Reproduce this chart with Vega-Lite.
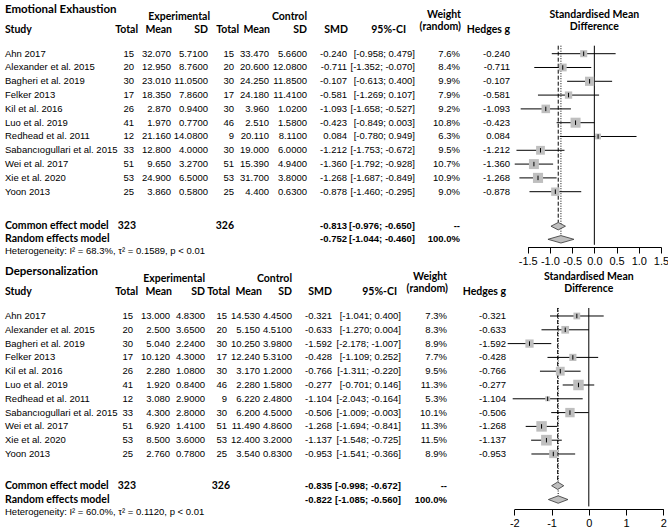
{
"$schema": "https://vega.github.io/schema/vega-lite/v6.json",
"padding": 0,
"spacing": 0,
"config": {
 "view": {"stroke": null},
 "text": {"font": "Liberation Sans", "fontSize": 9.5, "baseline": "middle", "color": "#000"},
 "axis": {"grid": false, "domainColor": "#000", "tickColor": "#000", "labelColor": "#000", "labelFont": "Liberation Sans", "labelFontSize": 11, "tickSize": 6, "labelPadding": 2, "labelFlush": false, "labelOverlap": false, "labelExpr": "replace(datum.label, '−', '-')"}
},
"datasets": {
 "one": [{}],
 "ee": [
  {"study":"Ahn 2017","ne":15,"me":32.07,"sde":5.71,"nc":15,"mc":33.47,"sdc":5.66,"smd":-0.240,"lo":-0.958,"hi":0.479,"w":7.6},
  {"study":"Alexander et al. 2015","ne":20,"me":12.95,"sde":8.76,"nc":20,"mc":20.6,"sdc":12.08,"smd":-0.711,"lo":-1.352,"hi":-0.070,"w":8.4},
  {"study":"Bagheri et al. 2019","ne":30,"me":23.01,"sde":11.05,"nc":30,"mc":24.25,"sdc":11.85,"smd":-0.107,"lo":-0.613,"hi":0.400,"w":9.9},
  {"study":"Felker 2013","ne":17,"me":18.35,"sde":7.86,"nc":17,"mc":24.18,"sdc":11.41,"smd":-0.581,"lo":-1.269,"hi":0.107,"w":7.9},
  {"study":"Kil et al. 2016","ne":26,"me":2.87,"sde":0.94,"nc":30,"mc":3.96,"sdc":1.02,"smd":-1.093,"lo":-1.658,"hi":-0.527,"w":9.2},
  {"study":"Luo et al. 2019","ne":41,"me":1.97,"sde":0.77,"nc":46,"mc":2.51,"sdc":1.58,"smd":-0.423,"lo":-0.849,"hi":0.003,"w":10.8},
  {"study":"Redhead et al. 2011","ne":12,"me":21.16,"sde":14.08,"nc":9,"mc":20.11,"sdc":8.11,"smd":0.084,"lo":-0.780,"hi":0.949,"w":6.3},
  {"study":"Sabancıogullari et al. 2015","ne":33,"me":12.8,"sde":4.0,"nc":30,"mc":19.0,"sdc":6.0,"smd":-1.212,"lo":-1.753,"hi":-0.672,"w":9.5},
  {"study":"Wei et al. 2017","ne":51,"me":9.65,"sde":3.27,"nc":51,"mc":15.39,"sdc":4.94,"smd":-1.360,"lo":-1.792,"hi":-0.928,"w":10.7},
  {"study":"Xie et al. 2020","ne":53,"me":24.9,"sde":6.5,"nc":53,"mc":31.7,"sdc":3.8,"smd":-1.268,"lo":-1.687,"hi":-0.849,"w":10.9},
  {"study":"Yoon 2013","ne":25,"me":3.86,"sde":0.58,"nc":25,"mc":4.4,"sdc":0.63,"smd":-0.878,"lo":-1.460,"hi":-0.295,"w":9.0}
 ],
 "ee_sum": [
  {"model":"Common effect model","ne":323,"nc":326,"smd":-0.813,"lo":-0.976,"hi":-0.650,"w":null},
  {"model":"Random effects model","ne":null,"nc":null,"smd":-0.752,"lo":-1.044,"hi":-0.460,"w":100.0}
 ],
 "dp": [
  {"study":"Ahn 2017","ne":15,"me":13.0,"sde":4.83,"nc":15,"mc":14.53,"sdc":4.45,"smd":-0.321,"lo":-1.041,"hi":0.400,"w":7.3},
  {"study":"Alexander et al. 2015","ne":20,"me":2.5,"sde":3.65,"nc":20,"mc":5.15,"sdc":4.51,"smd":-0.633,"lo":-1.270,"hi":0.004,"w":8.3},
  {"study":"Bagheri et al. 2019","ne":30,"me":5.04,"sde":2.24,"nc":30,"mc":10.25,"sdc":3.98,"smd":-1.592,"lo":-2.178,"hi":-1.007,"w":8.9},
  {"study":"Felker 2013","ne":17,"me":10.12,"sde":4.3,"nc":17,"mc":12.24,"sdc":5.31,"smd":-0.428,"lo":-1.109,"hi":0.252,"w":7.7},
  {"study":"Kil et al. 2016","ne":26,"me":2.28,"sde":1.08,"nc":30,"mc":3.17,"sdc":1.2,"smd":-0.766,"lo":-1.311,"hi":-0.220,"w":9.5},
  {"study":"Luo et al. 2019","ne":41,"me":1.92,"sde":0.84,"nc":46,"mc":2.28,"sdc":1.58,"smd":-0.277,"lo":-0.701,"hi":0.146,"w":11.3},
  {"study":"Redhead et al. 2011","ne":12,"me":3.08,"sde":2.9,"nc":9,"mc":6.22,"sdc":2.48,"smd":-1.104,"lo":-2.043,"hi":-0.164,"w":5.3},
  {"study":"Sabancıogullari et al. 2015","ne":33,"me":4.3,"sde":2.8,"nc":30,"mc":6.2,"sdc":4.5,"smd":-0.506,"lo":-1.009,"hi":-0.003,"w":10.1},
  {"study":"Wei et al. 2017","ne":51,"me":6.92,"sde":1.41,"nc":51,"mc":11.49,"sdc":4.86,"smd":-1.268,"lo":-1.694,"hi":-0.841,"w":11.3},
  {"study":"Xie et al. 2020","ne":53,"me":8.5,"sde":3.6,"nc":53,"mc":12.4,"sdc":3.2,"smd":-1.137,"lo":-1.548,"hi":-0.725,"w":11.5},
  {"study":"Yoon 2013","ne":25,"me":2.76,"sde":0.78,"nc":25,"mc":3.54,"sdc":0.83,"smd":-0.953,"lo":-1.541,"hi":-0.366,"w":8.9}
 ],
 "dp_sum": [
  {"model":"Common effect model","ne":323,"nc":326,"smd":-0.835,"lo":-0.998,"hi":-0.672,"w":null},
  {"model":"Random effects model","ne":null,"nc":null,"smd":-0.822,"lo":-1.085,"hi":-0.560,"w":100.0}
 ]
},
"vconcat": [
 {
  "spacing": 0,
  "bounds": "flush",
  "hconcat": [
   {
    "width": 510, "height": 247,
    "layer": [
     {
      "data": {"name": "ee"},
      "transform": [
       {"window": [{"op": "row_number", "as": "r"}]},
       {"calculate": "replace(format(datum.smd, '.3f'), '−', '-')", "as": "smdt"},
       {"calculate": "'[' + replace(format(datum.lo, '.3f'), '−', '-') + ';' + (datum.hi < 0 ? ' ' : '  ') + replace(format(datum.hi, '.3f'), '−', '-') + ']'", "as": "ci"},
       {"calculate": "format(datum.w, '.1f') + '%'", "as": "wt"}
      ],
      "encoding": {"y": {"field": "r", "type": "quantitative", "scale": {"domain": [-2.891, 15.008], "reverse": true, "nice": false, "zero": false}, "axis": null}},
      "layer": [
       {"mark": {"type": "text", "align": "left"}, "encoding": {"x": {"datum": 5, "type": "quantitative", "scale": {"domain": [0, 510], "nice": false, "zero": false}, "axis": null}, "text": {"field": "study"}}},
       {"mark": {"type": "text", "align": "right"}, "encoding": {"x": {"datum": 134, "type": "quantitative", "axis": null}, "text": {"field": "ne", "type": "quantitative", "format": "d"}}},
       {"mark": {"type": "text", "align": "right"}, "encoding": {"x": {"datum": 171, "type": "quantitative", "axis": null}, "text": {"field": "me", "type": "quantitative", "format": ".3f"}}},
       {"mark": {"type": "text", "align": "right"}, "encoding": {"x": {"datum": 208, "type": "quantitative", "axis": null}, "text": {"field": "sde", "type": "quantitative", "format": ".4f"}}},
       {"mark": {"type": "text", "align": "right"}, "encoding": {"x": {"datum": 234, "type": "quantitative", "axis": null}, "text": {"field": "nc", "type": "quantitative", "format": "d"}}},
       {"mark": {"type": "text", "align": "right"}, "encoding": {"x": {"datum": 269, "type": "quantitative", "axis": null}, "text": {"field": "mc", "type": "quantitative", "format": ".3f"}}},
       {"mark": {"type": "text", "align": "right"}, "encoding": {"x": {"datum": 307, "type": "quantitative", "axis": null}, "text": {"field": "sdc", "type": "quantitative", "format": ".4f"}}},
       {"mark": {"type": "text", "align": "right"}, "encoding": {"x": {"datum": 347, "type": "quantitative", "axis": null}, "text": {"field": "smdt"}}},
       {"mark": {"type": "text", "align": "right"}, "encoding": {"x": {"datum": 415, "type": "quantitative", "axis": null}, "text": {"field": "ci"}}},
       {"mark": {"type": "text", "align": "right"}, "encoding": {"x": {"datum": 460, "type": "quantitative", "axis": null}, "text": {"field": "wt"}}},
       {"mark": {"type": "text", "align": "right"}, "encoding": {"x": {"datum": 510, "type": "quantitative", "axis": null}, "text": {"field": "smdt"}}}
      ]
     },
     {
      "data": {"name": "ee_sum"},
      "transform": [
       {"calculate": "datum.model == 'Common effect model' ? 13.5 : 14.45", "as": "r"},
       {"calculate": "replace(format(datum.smd, '.3f'), '−', '-')", "as": "smdt"},
       {"calculate": "'[' + replace(format(datum.lo, '.3f'), '−', '-') + ';' + (datum.hi < 0 ? ' ' : '  ') + replace(format(datum.hi, '.3f'), '−', '-') + ']'", "as": "ci"},
       {"calculate": "isValid(datum.w) ? format(datum.w, '.1f') + '%' : '--'", "as": "wt"},
       {"calculate": "isValid(datum.ne) ? format(datum.ne, 'd') : ''", "as": "net"},
       {"calculate": "isValid(datum.nc) ? format(datum.nc, 'd') : ''", "as": "nct"}
      ],
      "encoding": {"y": {"field": "r", "type": "quantitative", "axis": null}},
      "layer": [
       {"mark": {"type": "text", "align": "left", "font": "Lato", "fontWeight": "bold", "fontSize": 10.5}, "encoding": {"x": {"datum": 5, "type": "quantitative", "axis": null}, "text": {"field": "model"}}},
       {"mark": {"type": "text", "align": "right", "font": "Lato", "fontWeight": "bold", "fontSize": 10.5}, "encoding": {"x": {"datum": 136, "type": "quantitative", "axis": null}, "text": {"field": "net"}}},
       {"mark": {"type": "text", "align": "right", "font": "Lato", "fontWeight": "bold", "fontSize": 10.5}, "encoding": {"x": {"datum": 234, "type": "quantitative", "axis": null}, "text": {"field": "nct"}}},
       {"mark": {"type": "text", "align": "right", "fontWeight": "bold"}, "encoding": {"x": {"datum": 347, "type": "quantitative", "axis": null}, "text": {"field": "smdt"}}},
       {"mark": {"type": "text", "align": "right", "fontWeight": "bold"}, "encoding": {"x": {"datum": 415, "type": "quantitative", "axis": null}, "text": {"field": "ci"}}},
       {"mark": {"type": "text", "align": "right", "fontWeight": "bold"}, "encoding": {"x": {"datum": 460, "type": "quantitative", "axis": null}, "text": {"field": "wt"}}}
      ]
     },
     {
      "data": {"name": "one"},
      "layer": [
       {"mark": {"type": "text", "align": "left", "font": "Lato", "fontWeight": "bold", "fontSize": 11.5}, "encoding": {"x": {"datum": 5, "type": "quantitative", "axis": null}, "y": {"datum": -2.17, "type": "quantitative", "axis": null}, "text": {"value": "Emotional Exhaustion"}}},
       {"mark": {"type": "text", "align": "right", "font": "Lato", "fontWeight": "bold", "fontSize": 10.5}, "encoding": {"x": {"datum": 210, "type": "quantitative", "axis": null}, "y": {"datum": -1.66, "type": "quantitative", "axis": null}, "text": {"value": "Experimental"}}},
       {"mark": {"type": "text", "align": "right", "font": "Lato", "fontWeight": "bold", "fontSize": 10.5}, "encoding": {"x": {"datum": 307, "type": "quantitative", "axis": null}, "y": {"datum": -1.66, "type": "quantitative", "axis": null}, "text": {"value": "Control"}}},
       {"mark": {"type": "text", "align": "right", "font": "Lato", "fontWeight": "bold", "fontSize": 10.5}, "encoding": {"x": {"datum": 461, "type": "quantitative", "axis": null}, "y": {"datum": -1.8, "type": "quantitative", "axis": null}, "text": {"value": "Weight"}}},
       {"mark": {"type": "text", "align": "left", "font": "Lato", "fontWeight": "bold", "fontSize": 10.5}, "encoding": {"x": {"datum": 5, "type": "quantitative", "axis": null}, "y": {"datum": -0.75, "type": "quantitative", "axis": null}, "text": {"value": "Study"}}},
       {"mark": {"type": "text", "align": "right", "font": "Lato", "fontWeight": "bold", "fontSize": 10.5}, "encoding": {"x": {"datum": 138, "type": "quantitative", "axis": null}, "y": {"datum": -0.75, "type": "quantitative", "axis": null}, "text": {"value": "Total"}}},
       {"mark": {"type": "text", "align": "right", "font": "Lato", "fontWeight": "bold", "fontSize": 10.5}, "encoding": {"x": {"datum": 172, "type": "quantitative", "axis": null}, "y": {"datum": -0.75, "type": "quantitative", "axis": null}, "text": {"value": "Mean"}}},
       {"mark": {"type": "text", "align": "right", "font": "Lato", "fontWeight": "bold", "fontSize": 10.5}, "encoding": {"x": {"datum": 208, "type": "quantitative", "axis": null}, "y": {"datum": -0.75, "type": "quantitative", "axis": null}, "text": {"value": "SD"}}},
       {"mark": {"type": "text", "align": "right", "font": "Lato", "fontWeight": "bold", "fontSize": 10.5}, "encoding": {"x": {"datum": 239, "type": "quantitative", "axis": null}, "y": {"datum": -0.75, "type": "quantitative", "axis": null}, "text": {"value": "Total"}}},
       {"mark": {"type": "text", "align": "right", "font": "Lato", "fontWeight": "bold", "fontSize": 10.5}, "encoding": {"x": {"datum": 270, "type": "quantitative", "axis": null}, "y": {"datum": -0.75, "type": "quantitative", "axis": null}, "text": {"value": "Mean"}}},
       {"mark": {"type": "text", "align": "right", "font": "Lato", "fontWeight": "bold", "fontSize": 10.5}, "encoding": {"x": {"datum": 307, "type": "quantitative", "axis": null}, "y": {"datum": -0.75, "type": "quantitative", "axis": null}, "text": {"value": "SD"}}},
       {"mark": {"type": "text", "align": "right", "font": "Lato", "fontWeight": "bold", "fontSize": 10.5}, "encoding": {"x": {"datum": 348, "type": "quantitative", "axis": null}, "y": {"datum": -0.75, "type": "quantitative", "axis": null}, "text": {"value": "SMD"}}},
       {"mark": {"type": "text", "align": "right", "font": "Lato", "fontWeight": "bold", "fontSize": 10.5}, "encoding": {"x": {"datum": 406, "type": "quantitative", "axis": null}, "y": {"datum": -0.75, "type": "quantitative", "axis": null}, "text": {"value": "95%-CI"}}},
       {"mark": {"type": "text", "align": "right", "font": "Lato", "fontWeight": "bold", "fontSize": 10.5}, "encoding": {"x": {"datum": 461, "type": "quantitative", "axis": null}, "y": {"datum": -0.93, "type": "quantitative", "axis": null}, "text": {"value": "(random)"}}},
       {"mark": {"type": "text", "align": "right", "font": "Lato", "fontWeight": "bold", "fontSize": 10.5}, "encoding": {"x": {"datum": 510, "type": "quantitative", "axis": null}, "y": {"datum": -0.75, "type": "quantitative", "axis": null}, "text": {"value": "Hedges g"}}},
       {"mark": {"type": "text", "align": "left", "fontSize": 9.5}, "encoding": {"x": {"datum": 5, "type": "quantitative", "axis": null}, "y": {"datum": 15.3, "type": "quantitative", "axis": null}, "text": {"value": "Heterogeneity: I² = 68.3%,  τ² = 0.1589,  p < 0.01"}}}
      ]
     }
    ]
   },
   {
    "width": 158, "height": 247,
    "layer": [
     {
      "data": {"name": "one"},
      "transform": [{"calculate": "0.42", "as": "yt"}, {"calculate": "14.85", "as": "yb"}],
      "mark": {"type": "rule", "color": "#000", "strokeWidth": 1},
      "encoding": {
       "x": {"datum": 0, "type": "quantitative", "scale": {"domain": [-1.5, 1.5], "range": [17.7, 151], "nice": false, "zero": false}, "axis": {"values": [-1.5, -1, -0.5, 0, 0.5, 1, 1.5], "title": null}},
       "y": {"field": "yt", "type": "quantitative", "scale": {"domain": [-2.891, 15.008], "reverse": true, "nice": false, "zero": false}, "axis": null},
       "y2": {"field": "yb"}
      }
     },
     {
      "data": {"name": "ee_sum"},
      "transform": [
       {"calculate": "datum.model == 'Common effect model' ? 13.5 : 14.45", "as": "r"},
       {"calculate": "0.42", "as": "yt"},
       {"calculate": "datum.r - 0.27", "as": "top"}
      ],
      "mark": {"type": "rule", "color": "#000", "strokeWidth": 1},
      "encoding": {
       "x": {"field": "smd", "type": "quantitative", "axis": {"values": [-1.5, -1, -0.5, 0, 0.5, 1, 1.5], "title": null}},
       "y": {"field": "yt", "type": "quantitative", "axis": null},
       "y2": {"field": "top"},
       "strokeDash": {"field": "model", "type": "nominal", "scale": {"domain": ["Common effect model", "Random effects model"], "range": [[4, 2], [1, 1.5]]}, "legend": null}
      }
     },
     {
      "data": {"name": "ee"},
      "transform": [{"window": [{"op": "row_number", "as": "r"}]}],
      "encoding": {"y": {"field": "r", "type": "quantitative", "axis": null}},
      "layer": [
       {"mark": {"type": "rule", "color": "#000", "strokeWidth": 1}, "encoding": {"x": {"field": "lo", "type": "quantitative", "axis": {"values": [-1.5, -1, -0.5, 0, 0.5, 1, 1.5], "title": null}}, "x2": {"field": "hi"}}},
       {"mark": {"type": "point", "shape": "square", "filled": true, "color": "#bfbfbf", "opacity": 1, "strokeWidth": 0}, "encoding": {"x": {"field": "smd", "type": "quantitative", "axis": {"values": [-1.5, -1, -0.5, 0, 0.5, 1, 1.5], "title": null}}, "size": {"field": "w", "type": "quantitative", "scale": {"type": "pow", "exponent": 2, "domain": [0, 12], "range": [0, 124]}, "legend": null}}},
       {"mark": {"type": "point", "shape": "M0,-1L0,1", "filled": false, "color": "#000", "opacity": 1, "strokeWidth": 1, "size": 20}, "encoding": {"x": {"field": "smd", "type": "quantitative", "axis": {"values": [-1.5, -1, -0.5, 0, 0.5, 1, 1.5], "title": null}}}}
      ]
     },
     {
      "data": {"name": "ee_sum"},
      "transform": [
       {"calculate": "datum.model == 'Common effect model' ? 13.5 : 14.45", "as": "r"},
       {"fold": ["lo", "smd", "hi"], "as": ["k", "xv"]},
       {"calculate": "datum.k == 'smd' ? 0.27 : 0", "as": "h"},
       {"calculate": "datum.r - datum.h", "as": "ya"},
       {"calculate": "datum.r + datum.h", "as": "yb"}
      ],
      "mark": {"type": "area", "orient": "vertical", "fill": "#bfbfbf", "stroke": "#333", "strokeWidth": 0.8, "opacity": 1},
      "encoding": {
       "x": {"field": "xv", "type": "quantitative", "axis": {"values": [-1.5, -1, -0.5, 0, 0.5, 1, 1.5], "title": null}},
       "y": {"field": "ya", "type": "quantitative", "stack": null, "axis": null},
       "y2": {"field": "yb"},
       "detail": {"field": "model", "type": "nominal"}
      }
     },
     {
      "data": {"name": "one"},
      "layer": [
       {"mark": {"type": "text", "align": "center", "font": "Lato", "fontWeight": "bold", "fontSize": 10.5}, "encoding": {"x": {"datum": 0, "type": "quantitative", "axis": {"values": [-1.5, -1, -0.5, 0, 0.5, 1, 1.5], "title": null}}, "y": {"datum": -1.8, "type": "quantitative", "axis": null}, "text": {"value": "Standardised Mean"}}},
       {"mark": {"type": "text", "align": "center", "font": "Lato", "fontWeight": "bold", "fontSize": 10.5}, "encoding": {"x": {"datum": 0, "type": "quantitative", "axis": {"values": [-1.5, -1, -0.5, 0, 0.5, 1, 1.5], "title": null}}, "y": {"datum": -0.93, "type": "quantitative", "axis": null}, "text": {"value": "Difference"}}}
      ]
     }
    ]
   }
  ]
 },
 {
  "spacing": 0,
  "bounds": "flush",
  "hconcat": [
   {
    "width": 510, "height": 241,
    "layer": [
     {
      "data": {"name": "dp"},
      "transform": [
       {"window": [{"op": "row_number", "as": "r"}]},
       {"calculate": "replace(format(datum.smd, '.3f'), '−', '-')", "as": "smdt"},
       {"calculate": "'[' + replace(format(datum.lo, '.3f'), '−', '-') + ';' + (datum.hi < 0 ? ' ' : '  ') + replace(format(datum.hi, '.3f'), '−', '-') + ']'", "as": "ci"},
       {"calculate": "format(datum.w, '.1f') + '%'", "as": "wt"}
      ],
      "encoding": {"y": {"field": "r", "type": "quantitative", "scale": {"domain": [-2.478, 14.986], "reverse": true, "nice": false, "zero": false}, "axis": null}},
      "layer": [
       {"mark": {"type": "text", "align": "left"}, "encoding": {"x": {"datum": 5, "type": "quantitative", "scale": {"domain": [0, 510], "nice": false, "zero": false}, "axis": null}, "text": {"field": "study"}}},
       {"mark": {"type": "text", "align": "right"}, "encoding": {"x": {"datum": 133, "type": "quantitative", "axis": null}, "text": {"field": "ne", "type": "quantitative", "format": "d"}}},
       {"mark": {"type": "text", "align": "right"}, "encoding": {"x": {"datum": 170, "type": "quantitative", "axis": null}, "text": {"field": "me", "type": "quantitative", "format": ".3f"}}},
       {"mark": {"type": "text", "align": "right"}, "encoding": {"x": {"datum": 205, "type": "quantitative", "axis": null}, "text": {"field": "sde", "type": "quantitative", "format": ".4f"}}},
       {"mark": {"type": "text", "align": "right"}, "encoding": {"x": {"datum": 227, "type": "quantitative", "axis": null}, "text": {"field": "nc", "type": "quantitative", "format": "d"}}},
       {"mark": {"type": "text", "align": "right"}, "encoding": {"x": {"datum": 260, "type": "quantitative", "axis": null}, "text": {"field": "mc", "type": "quantitative", "format": ".3f"}}},
       {"mark": {"type": "text", "align": "right"}, "encoding": {"x": {"datum": 292, "type": "quantitative", "axis": null}, "text": {"field": "sdc", "type": "quantitative", "format": ".4f"}}},
       {"mark": {"type": "text", "align": "right"}, "encoding": {"x": {"datum": 332, "type": "quantitative", "axis": null}, "text": {"field": "smdt"}}},
       {"mark": {"type": "text", "align": "right"}, "encoding": {"x": {"datum": 401, "type": "quantitative", "axis": null}, "text": {"field": "ci"}}},
       {"mark": {"type": "text", "align": "right"}, "encoding": {"x": {"datum": 447, "type": "quantitative", "axis": null}, "text": {"field": "wt"}}},
       {"mark": {"type": "text", "align": "right"}, "encoding": {"x": {"datum": 506, "type": "quantitative", "axis": null}, "text": {"field": "smdt"}}}
      ]
     },
     {
      "data": {"name": "dp_sum"},
      "transform": [
       {"calculate": "datum.model == 'Common effect model' ? 13.3 : 14.3", "as": "r"},
       {"calculate": "replace(format(datum.smd, '.3f'), '−', '-')", "as": "smdt"},
       {"calculate": "'[' + replace(format(datum.lo, '.3f'), '−', '-') + ';' + (datum.hi < 0 ? ' ' : '  ') + replace(format(datum.hi, '.3f'), '−', '-') + ']'", "as": "ci"},
       {"calculate": "isValid(datum.w) ? format(datum.w, '.1f') + '%' : '--'", "as": "wt"},
       {"calculate": "isValid(datum.ne) ? format(datum.ne, 'd') : ''", "as": "net"},
       {"calculate": "isValid(datum.nc) ? format(datum.nc, 'd') : ''", "as": "nct"}
      ],
      "encoding": {"y": {"field": "r", "type": "quantitative", "axis": null}},
      "layer": [
       {"mark": {"type": "text", "align": "left", "font": "Lato", "fontWeight": "bold", "fontSize": 10.5}, "encoding": {"x": {"datum": 5, "type": "quantitative", "axis": null}, "text": {"field": "model"}}},
       {"mark": {"type": "text", "align": "right", "font": "Lato", "fontWeight": "bold", "fontSize": 10.5}, "encoding": {"x": {"datum": 136, "type": "quantitative", "axis": null}, "text": {"field": "net"}}},
       {"mark": {"type": "text", "align": "right", "font": "Lato", "fontWeight": "bold", "fontSize": 10.5}, "encoding": {"x": {"datum": 230, "type": "quantitative", "axis": null}, "text": {"field": "nct"}}},
       {"mark": {"type": "text", "align": "right", "fontWeight": "bold"}, "encoding": {"x": {"datum": 332, "type": "quantitative", "axis": null}, "text": {"field": "smdt"}}},
       {"mark": {"type": "text", "align": "right", "fontWeight": "bold"}, "encoding": {"x": {"datum": 401, "type": "quantitative", "axis": null}, "text": {"field": "ci"}}},
       {"mark": {"type": "text", "align": "right", "fontWeight": "bold"}, "encoding": {"x": {"datum": 447, "type": "quantitative", "axis": null}, "text": {"field": "wt"}}}
      ]
     },
     {
      "data": {"name": "one"},
      "layer": [
       {"mark": {"type": "text", "align": "left", "font": "Lato", "fontWeight": "bold", "fontSize": 11.5}, "encoding": {"x": {"datum": 5, "type": "quantitative", "axis": null}, "y": {"datum": -2.17, "type": "quantitative", "axis": null}, "text": {"value": "Depersonalization"}}},
       {"mark": {"type": "text", "align": "right", "font": "Lato", "fontWeight": "bold", "fontSize": 10.5}, "encoding": {"x": {"datum": 205, "type": "quantitative", "axis": null}, "y": {"datum": -1.66, "type": "quantitative", "axis": null}, "text": {"value": "Experimental"}}},
       {"mark": {"type": "text", "align": "right", "font": "Lato", "fontWeight": "bold", "fontSize": 10.5}, "encoding": {"x": {"datum": 292, "type": "quantitative", "axis": null}, "y": {"datum": -1.66, "type": "quantitative", "axis": null}, "text": {"value": "Control"}}},
       {"mark": {"type": "text", "align": "right", "font": "Lato", "fontWeight": "bold", "fontSize": 10.5}, "encoding": {"x": {"datum": 447, "type": "quantitative", "axis": null}, "y": {"datum": -1.8, "type": "quantitative", "axis": null}, "text": {"value": "Weight"}}},
       {"mark": {"type": "text", "align": "left", "font": "Lato", "fontWeight": "bold", "fontSize": 10.5}, "encoding": {"x": {"datum": 5, "type": "quantitative", "axis": null}, "y": {"datum": -0.75, "type": "quantitative", "axis": null}, "text": {"value": "Study"}}},
       {"mark": {"type": "text", "align": "right", "font": "Lato", "fontWeight": "bold", "fontSize": 10.5}, "encoding": {"x": {"datum": 138, "type": "quantitative", "axis": null}, "y": {"datum": -0.75, "type": "quantitative", "axis": null}, "text": {"value": "Total"}}},
       {"mark": {"type": "text", "align": "right", "font": "Lato", "fontWeight": "bold", "fontSize": 10.5}, "encoding": {"x": {"datum": 172, "type": "quantitative", "axis": null}, "y": {"datum": -0.75, "type": "quantitative", "axis": null}, "text": {"value": "Mean"}}},
       {"mark": {"type": "text", "align": "right", "font": "Lato", "fontWeight": "bold", "fontSize": 10.5}, "encoding": {"x": {"datum": 205, "type": "quantitative", "axis": null}, "y": {"datum": -0.75, "type": "quantitative", "axis": null}, "text": {"value": "SD"}}},
       {"mark": {"type": "text", "align": "right", "font": "Lato", "fontWeight": "bold", "fontSize": 10.5}, "encoding": {"x": {"datum": 230, "type": "quantitative", "axis": null}, "y": {"datum": -0.75, "type": "quantitative", "axis": null}, "text": {"value": "Total"}}},
       {"mark": {"type": "text", "align": "right", "font": "Lato", "fontWeight": "bold", "fontSize": 10.5}, "encoding": {"x": {"datum": 262, "type": "quantitative", "axis": null}, "y": {"datum": -0.75, "type": "quantitative", "axis": null}, "text": {"value": "Mean"}}},
       {"mark": {"type": "text", "align": "right", "font": "Lato", "fontWeight": "bold", "fontSize": 10.5}, "encoding": {"x": {"datum": 292, "type": "quantitative", "axis": null}, "y": {"datum": -0.75, "type": "quantitative", "axis": null}, "text": {"value": "SD"}}},
       {"mark": {"type": "text", "align": "right", "font": "Lato", "fontWeight": "bold", "fontSize": 10.5}, "encoding": {"x": {"datum": 332, "type": "quantitative", "axis": null}, "y": {"datum": -0.75, "type": "quantitative", "axis": null}, "text": {"value": "SMD"}}},
       {"mark": {"type": "text", "align": "right", "font": "Lato", "fontWeight": "bold", "fontSize": 10.5}, "encoding": {"x": {"datum": 397, "type": "quantitative", "axis": null}, "y": {"datum": -0.75, "type": "quantitative", "axis": null}, "text": {"value": "95%-CI"}}},
       {"mark": {"type": "text", "align": "right", "font": "Lato", "fontWeight": "bold", "fontSize": 10.5}, "encoding": {"x": {"datum": 448, "type": "quantitative", "axis": null}, "y": {"datum": -0.93, "type": "quantitative", "axis": null}, "text": {"value": "(random)"}}},
       {"mark": {"type": "text", "align": "right", "font": "Lato", "fontWeight": "bold", "fontSize": 10.5}, "encoding": {"x": {"datum": 506, "type": "quantitative", "axis": null}, "y": {"datum": -0.75, "type": "quantitative", "axis": null}, "text": {"value": "Hedges g"}}},
       {"mark": {"type": "text", "align": "left", "fontSize": 9.5}, "encoding": {"x": {"datum": 5, "type": "quantitative", "axis": null}, "y": {"datum": 15.2, "type": "quantitative", "axis": null}, "text": {"value": "Heterogeneity: I² = 60.0%,  τ² = 0.1120,  p < 0.01"}}}
      ]
     }
    ]
   },
   {
    "width": 158, "height": 241,
    "layer": [
     {
      "data": {"name": "one"},
      "transform": [{"calculate": "0.42", "as": "yt"}, {"calculate": "14.8", "as": "yb"}],
      "mark": {"type": "rule", "color": "#000", "strokeWidth": 1},
      "encoding": {
       "x": {"datum": 0, "type": "quantitative", "scale": {"domain": [-2, 2], "range": [4.3, 153.3], "nice": false, "zero": false}, "axis": {"values": [-2, -1, 0, 1, 2], "title": null}},
       "y": {"field": "yt", "type": "quantitative", "scale": {"domain": [-2.478, 14.986], "reverse": true, "nice": false, "zero": false}, "axis": null},
       "y2": {"field": "yb"}
      }
     },
     {
      "data": {"name": "dp_sum"},
      "transform": [
       {"calculate": "datum.model == 'Common effect model' ? 13.3 : 14.3", "as": "r"},
       {"calculate": "0.42", "as": "yt"},
       {"calculate": "datum.r - 0.27", "as": "top"}
      ],
      "mark": {"type": "rule", "color": "#000", "strokeWidth": 1},
      "encoding": {
       "x": {"field": "smd", "type": "quantitative", "axis": {"values": [-2, -1, 0, 1, 2], "title": null}},
       "y": {"field": "yt", "type": "quantitative", "axis": null},
       "y2": {"field": "top"},
       "strokeDash": {"field": "model", "type": "nominal", "scale": {"domain": ["Common effect model", "Random effects model"], "range": [[4, 2], [1, 1.5]]}, "legend": null}
      }
     },
     {
      "data": {"name": "dp"},
      "transform": [{"window": [{"op": "row_number", "as": "r"}]}],
      "encoding": {"y": {"field": "r", "type": "quantitative", "axis": null}},
      "layer": [
       {"mark": {"type": "rule", "color": "#000", "strokeWidth": 1}, "encoding": {"x": {"field": "lo", "type": "quantitative", "axis": {"values": [-2, -1, 0, 1, 2], "title": null}}, "x2": {"field": "hi"}}},
       {"mark": {"type": "point", "shape": "square", "filled": true, "color": "#bfbfbf", "opacity": 1, "strokeWidth": 0}, "encoding": {"x": {"field": "smd", "type": "quantitative", "axis": {"values": [-2, -1, 0, 1, 2], "title": null}}, "size": {"field": "w", "type": "quantitative", "scale": {"type": "pow", "exponent": 2, "domain": [0, 12], "range": [0, 124]}, "legend": null}}},
       {"mark": {"type": "point", "shape": "M0,-1L0,1", "filled": false, "color": "#000", "opacity": 1, "strokeWidth": 1, "size": 20}, "encoding": {"x": {"field": "smd", "type": "quantitative", "axis": {"values": [-2, -1, 0, 1, 2], "title": null}}}}
      ]
     },
     {
      "data": {"name": "dp_sum"},
      "transform": [
       {"calculate": "datum.model == 'Common effect model' ? 13.3 : 14.3", "as": "r"},
       {"fold": ["lo", "smd", "hi"], "as": ["k", "xv"]},
       {"calculate": "datum.k == 'smd' ? 0.27 : 0", "as": "h"},
       {"calculate": "datum.r - datum.h", "as": "ya"},
       {"calculate": "datum.r + datum.h", "as": "yb"}
      ],
      "mark": {"type": "area", "orient": "vertical", "fill": "#bfbfbf", "stroke": "#333", "strokeWidth": 0.8, "opacity": 1},
      "encoding": {
       "x": {"field": "xv", "type": "quantitative", "axis": {"values": [-2, -1, 0, 1, 2], "title": null}},
       "y": {"field": "ya", "type": "quantitative", "stack": null, "axis": null},
       "y2": {"field": "yb"},
       "detail": {"field": "model", "type": "nominal"}
      }
     },
     {
      "data": {"name": "one"},
      "layer": [
       {"mark": {"type": "text", "align": "center", "font": "Lato", "fontWeight": "bold", "fontSize": 10.5}, "encoding": {"x": {"datum": 0, "type": "quantitative", "axis": {"values": [-2, -1, 0, 1, 2], "title": null}}, "y": {"datum": -1.8, "type": "quantitative", "axis": null}, "text": {"value": "Standardised Mean"}}},
       {"mark": {"type": "text", "align": "center", "font": "Lato", "fontWeight": "bold", "fontSize": 10.5}, "encoding": {"x": {"datum": 0, "type": "quantitative", "axis": {"values": [-2, -1, 0, 1, 2], "title": null}}, "y": {"datum": -0.93, "type": "quantitative", "axis": null}, "text": {"value": "Difference"}}}
      ]
     }
    ]
   }
  ]
 }
]
}
